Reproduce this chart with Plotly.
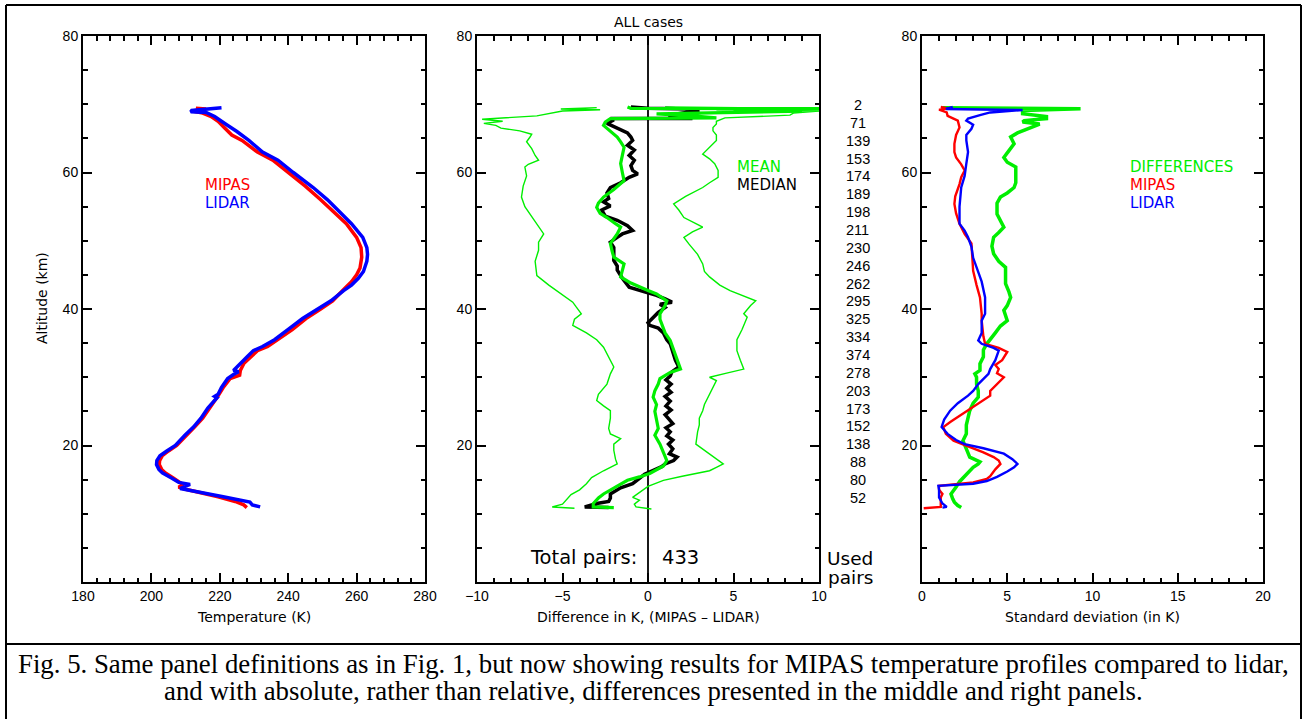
import plotly.graph_objects as go

# ---------------- Left panel: temperature profiles ----------------
mipas_alt = [69.4, 69.3, 69.0, 68.7, 68.2, 67.5, 66.5, 65.5, 64.7, 63.0, 61.8, 60.0, 58.0, 56.0, 54.0, 52.5,
             50.5, 49.0, 47.6, 46.0, 45.0, 44.0, 43.0, 42.0, 41.2, 40.0, 38.6, 37.0, 35.5, 34.5, 33.9, 33.0,
             32.0, 31.0, 30.3, 29.8, 28.5, 27.3, 25.5, 24.0, 22.7, 21.5, 20.5, 20.0, 19.2, 18.5, 17.8, 17.2,
             16.5, 16.0, 15.2, 14.6, 14.2, 13.9, 13.6, 12.5, 11.8, 11.3, 10.9]
mipas_temp = [213.0, 216.0, 212.0, 215.0, 217.5, 219.5, 221.5, 223.5, 226.5, 231.0, 235.5, 240.0, 245.0, 249.5,
              254.0, 257.0, 260.0, 261.3, 261.5, 261.0, 260.0, 258.5, 256.5, 254.5, 253.0, 249.5, 245.2, 241.2,
              237.0, 234.0, 231.0, 229.0, 227.0, 226.0, 225.8, 223.0, 221.0, 219.5, 217.0, 215.0, 212.6, 210.2,
              208.3, 207.4, 205.0, 203.2, 202.4, 202.3, 203.0, 204.0, 206.5, 208.5, 209.5, 207.9, 210.0, 219.5,
              224.5, 227.0, 227.9]
lidar_alt = [69.5, 69.1, 68.9, 68.8, 68.2, 67.9, 67.0, 66.0, 64.7, 63.0, 61.8, 60.0, 57.8, 56.0, 54.0, 52.5,
             50.5, 49.0, 48.0, 47.0, 45.5, 44.5, 43.5, 42.7, 41.2, 40.0, 38.6, 37.0, 35.5, 34.5, 33.9, 33.0,
             32.0, 31.2, 31.0, 30.8, 30.4, 29.8, 28.5, 27.5, 27.2, 27.0, 25.5, 24.0, 22.7, 21.5, 20.5, 20.0,
             19.2, 18.5, 17.8, 17.2, 16.5, 16.0, 15.2, 14.6, 14.3, 13.7, 12.5, 11.7, 11.3, 11.0]
lidar_temp = [220.5, 211.8, 211.5, 216.0, 218.5, 219.5, 222.0, 225.0, 228.5, 232.5, 237.0, 241.5, 247.3, 251.5,
              255.5, 258.5, 261.8, 263.0, 263.2, 263.0, 262.0, 260.5, 258.5, 256.2, 252.5, 248.5, 244.2, 240.0,
              236.0, 232.5, 229.8, 228.0, 226.0, 224.5, 224.0, 225.5, 224.0, 222.3, 220.5, 219.5, 218.5, 219.2,
              216.5, 214.5, 212.3, 209.8, 208.0, 207.0, 204.5, 202.5, 201.6, 201.5, 202.2, 203.2, 206.0, 208.0,
              211.3, 208.4, 221.0, 228.8, 229.5, 231.8]

# ---------------- Middle panel: differences ----------------
lower_alt = [69.5, 69.3, 69.2, 69.0, 68.3, 67.8, 67.5, 67.2, 66.9, 66.5, 66.1, 65.6, 65.2, 64.5, 63.5, 62.5,
             61.8, 61.2, 60.8, 59.5, 58.0, 56.4, 55.0, 53.9, 52.5, 51.0, 49.8, 48.6, 47.0, 45.5, 44.9, 43.5,
             42.0, 41.0, 40.3, 39.3, 38.5, 37.6, 36.5, 35.5, 34.4, 33.0, 31.5, 30.5, 29.0, 27.5, 26.6, 25.8,
             25.1, 24.0, 22.5, 21.7, 21.0, 20.2, 19.3, 18.0, 17.3, 16.3, 15.3, 14.4, 13.5, 12.8, 11.9, 11.4,
             11.0, 10.8]
lower_diff = [-3.0, -5.1, -2.8, -5.0, -6.5, -9.7, -8.5, -9.6, -8.9, -8.6, -7.5, -6.8, -6.9, -7.1, -6.8, -6.6,
              -6.4, -7.0, -7.2, -7.1, -7.3, -7.4, -7.2, -6.9, -6.5, -6.1, -6.4, -6.4, -6.6, -6.5, -6.5, -5.8,
              -5.0, -4.4, -4.2, -3.9, -4.3, -4.4, -3.6, -3.0, -2.6, -2.3, -2.0, -2.2, -2.4, -2.9, -3.0, -2.6,
              -2.2, -2.2, -2.3, -2.2, -1.6, -2.0, -2.0, -1.9, -1.8, -2.6, -3.3, -3.6, -4.0, -4.5, -4.8, -5.0,
              -5.6, -4.3]
upper_alt = [69.6, 69.4, 69.2, 69.0, 68.7, 68.4, 68.0, 67.5, 67.1, 66.6, 66.1, 65.5, 64.7, 63.5, 62.7, 62.0,
             61.3, 60.3, 59.3, 58.5, 57.8, 56.5, 55.4, 54.5, 53.4, 52.5, 52.0, 51.3, 50.5, 49.5, 48.0, 46.6,
             45.5, 44.7, 43.5, 42.7, 41.8, 41.2, 40.5, 39.3, 38.8, 37.0, 35.5, 33.9, 32.5, 31.2, 30.6, 30.0,
             29.5, 28.5, 27.0, 26.0, 25.1, 24.0, 23.0, 22.0, 20.2, 19.5, 18.8, 18.0, 17.3, 16.8, 16.3, 15.5,
             14.9, 14.0, 13.0, 12.4, 12.0, 11.4, 11.0, 10.7]
upper_diff = [1.0, 10.0, 4.0, 10.0, 8.5, 8.3, 4.5, 4.0, 4.0, 3.8, 3.8, 4.0, 4.0, 3.5, 3.2, 3.6,
              3.9, 4.1, 4.1, 3.6, 3.2, 2.2, 1.5, 1.8, 2.1, 2.8, 3.2, 2.6, 2.1, 2.4, 2.9, 3.2,
              3.3, 3.6, 4.2, 4.8, 5.7, 6.3, 6.0, 5.6, 5.8, 5.5, 5.2, 5.2, 5.4, 5.6, 4.6, 3.6,
              4.0, 3.8, 3.5, 3.3, 3.2, 3.0, 3.0, 2.9, 2.8, 3.2, 3.6, 4.0, 4.4, 4.0, 3.6, 2.0,
              0.9, 0.0, -0.6, -0.9, -0.5, -0.8, -0.7, 0.2]
mean_alt = [69.6, 69.4, 69.35, 69.2, 69.0, 68.8, 68.6, 68.3, 68.0, 67.9, 67.4, 66.9, 66.0, 65.2, 64.5, 63.7,
            62.5, 61.3, 60.0, 58.8, 57.5, 56.4, 55.5, 54.9, 54.0, 53.4, 52.5, 52.0, 51.0, 49.6, 48.5, 47.6,
            46.6, 45.5, 44.7, 43.8, 43.2, 42.7, 42.2, 41.6, 41.2, 40.5, 39.3, 38.5, 37.8, 36.5, 35.4, 34.0,
            32.5, 31.2, 30.7, 30.2, 29.8, 29.0, 28.0, 27.1, 26.0, 25.0, 23.7, 22.5, 21.5, 20.2, 19.0, 17.8,
            17.0, 16.5, 15.9, 15.4, 14.9, 14.2, 13.5, 12.9, 12.3, 11.5, 11.0, 10.9]
mean_diff = [-1.2, -1.0, 10.0, 5.0, 9.0, 5.3, 0.5, 2.6, 4.0, -2.2, -2.5, -2.6, -2.2, -1.8, -1.6, -1.4,
             -1.5, -1.6, -1.5, -1.4, -2.0, -2.6, -2.9, -3.0, -2.8, -2.4, -1.9, -1.6, -1.8, -2.2, -2.1, -2.0,
             -1.4, -1.5, -1.6, -1.0, -0.5, 0.0, 0.5, 0.9, 1.1, 1.0, 0.7, 0.7, 0.8, 1.0, 1.3, 1.5,
             1.7, 1.9, 1.3, 1.0, 0.7, 0.6, 0.4, 0.3, 0.5, 0.4, 0.5, 0.6, 0.4, 0.7, 0.9, 1.1,
             0.9, 0.5, 0.1, -0.5, -1.2, -1.7, -2.2, -2.6, -2.9, -3.2, -3.2, -2.0]
median_alt = [69.6, 69.4, 69.3, 69.1, 68.4, 67.9, 67.9, 67.7, 67.2, 66.5, 65.8, 65.2, 64.7, 64.0, 63.3, 62.5,
              61.8, 61.0, 60.3, 59.8, 59.3, 58.5, 57.8, 57.0, 56.2, 55.7, 55.1, 54.5, 53.6, 53.0, 52.2, 51.5,
              51.0, 50.5, 49.8, 49.0, 48.0, 47.1, 46.3, 45.7, 44.5, 43.2, 42.5, 42.0, 41.5, 41.0, 40.7, 40.2,
              39.5, 38.5, 38.0, 37.6, 37.2, 36.5, 35.5, 34.9, 33.5, 32.5, 31.5, 30.8, 30.2, 29.6, 29.0, 28.4,
              27.8, 27.2, 26.5, 25.8, 25.2, 24.5, 23.8, 23.2, 22.6, 22.0, 21.4, 20.8, 20.2, 19.5, 18.8, 18.3,
              17.8, 17.3, 16.9, 16.3, 15.8, 15.2, 14.4, 13.8, 12.9, 12.3, 11.8, 11.5, 11.2, 11.0, 10.9]
median_diff = [-1.0, 0.0, 2.5, 3.0, 1.2, 2.6, -2.2, -2.0, -2.4, -1.8, -1.2, -1.0, -0.9, -1.2, -0.8, -1.1,
               -0.8, -1.0, -0.9, -0.6, -1.1, -1.6, -2.2, -2.4, -2.3, -2.6, -2.2, -2.7, -2.5, -1.8, -1.2, -0.9,
               -1.5, -1.8, -2.2, -2.0, -2.0, -2.0, -1.8, -1.8, -1.5, -1.1, -0.2, 0.5, 1.0, 1.4, 0.7, 1.0,
               0.6, 0.2, 0.0, 0.1, 0.6, 0.9, 1.1, 1.3, 1.5, 1.6, 1.8, 1.4, 1.3, 1.05, 1.35, 1.1,
               1.35, 1.0, 1.3, 1.05, 1.35, 1.0, 1.25, 1.45, 1.05, 1.3, 1.1, 1.45, 1.2, 1.45, 1.25, 1.7,
               1.5, 1.0, 0.8, 0.3, -0.2, -0.5, -0.9, -1.6, -2.2, -2.2, -2.3, -3.0, -3.5, -3.7, -2.3]

used_pairs = [2, 71, 139, 153, 174, 189, 198, 211, 230, 246, 262, 295, 325, 334, 374, 278, 203, 173, 152, 138,
              88, 80, 52]
total_pairs = 433

# ---------------- Right panel: standard deviations ----------------
sd_diff_alt = [69.5, 69.35, 69.1, 68.6, 68.2, 67.9, 67.6, 67.4, 67.1, 66.6, 65.8, 65.2, 64.2, 63.2, 62.2, 61.5,
               60.8, 60.0, 58.5, 57.8, 57.0, 56.4, 55.5, 53.9, 52.8, 52.0, 51.2, 50.5, 49.2, 48.1, 47.0, 46.1,
               45.0, 43.7, 42.5, 41.7, 40.5, 39.8, 38.3, 37.5, 36.5, 35.5, 34.9, 34.0, 33.0, 32.0, 31.0, 30.5,
               30.0, 29.0, 28.0, 27.1, 26.2, 25.1, 24.0, 23.0, 21.7, 20.7, 19.5, 18.3, 17.6, 17.3, 16.8, 16.3,
               15.5, 14.7, 13.9, 12.9, 12.2, 11.7, 11.2, 10.9]
sd_diff = [1.2, 9.3, 5.9, 5.9, 7.3, 7.3, 6.0, 5.9, 6.9, 6.4, 5.6, 5.2, 5.4, 5.1, 4.8, 5.0,
           5.5, 5.5, 5.5, 5.4, 5.0, 4.6, 4.4, 4.4, 4.6, 4.8, 4.5, 4.2, 4.1, 4.2, 4.5, 4.9,
           4.9, 4.9, 5.1, 5.2, 5.0, 4.8, 5.0, 4.6, 4.3, 4.0, 3.8, 3.6, 3.6, 3.4, 3.4, 3.1,
           3.2, 3.2, 3.3, 3.3, 3.0, 2.8, 2.7, 2.6, 2.6, 2.4, 2.6, 2.8, 3.4, 3.3, 3.0, 2.8,
           2.5, 2.2, 2.0, 1.7, 1.8, 1.9, 2.1, 2.3]
sd_mipas_alt = [69.6, 69.4, 69.2, 68.8, 68.3, 67.6, 66.6, 65.5, 64.2, 63.0, 62.2, 61.2, 60.3, 59.3, 58.3, 56.5,
                55.4, 54.0, 52.5, 51.0, 49.6, 47.5, 45.6, 43.5, 41.7, 39.3, 38.3, 36.0, 34.9, 34.3, 33.7, 32.5,
                31.8, 31.2, 30.6, 30.0, 29.0, 28.0, 27.3, 26.5, 25.6, 24.5, 23.5, 22.7, 21.7, 20.7, 19.8, 19.0,
                18.3, 17.8, 17.3, 16.5, 15.5, 15.1, 14.6, 14.2, 14.1, 13.5, 12.9, 12.4, 11.5, 11.0, 10.8]
sd_mipas = [1.1, 1.5, 1.0, 1.45, 1.5, 2.1, 2.2, 2.0, 1.9, 1.9, 2.0, 2.3, 2.5, 2.3, 2.2, 1.95,
            1.9, 2.0, 2.2, 2.5, 2.9, 2.95, 3.0, 3.2, 3.4, 3.5, 3.5, 3.6, 3.7, 4.5, 5.0, 4.7,
            4.3, 4.5, 4.4, 4.8, 4.4, 4.0, 4.0, 3.5, 3.0, 2.3, 1.7, 1.25, 1.4, 1.85, 2.8, 3.6,
            4.2, 4.5, 4.6, 4.3, 4.0, 3.8, 3.0, 1.6, 1.0, 1.0, 1.2, 1.1, 1.1, 1.1, 0.1]
sd_lidar_alt = [69.6, 69.3, 69.15, 68.8, 68.4, 67.9, 67.6, 67.0, 66.4, 65.5, 64.7, 63.0, 61.3, 59.5, 57.8, 55.0,
                52.5, 51.5, 50.5, 49.1, 47.5, 46.1, 44.0, 41.7, 39.3, 38.3, 36.5, 35.4, 34.9, 34.3, 33.9, 32.5,
                31.2, 30.5, 29.8, 29.0, 28.0, 27.3, 26.2, 25.1, 23.8, 22.7, 21.7, 20.8, 20.2, 19.6, 18.8, 18.0,
                17.3, 16.8, 16.2, 15.4, 14.8, 14.4, 14.1, 13.5, 12.4, 11.5, 11.0, 10.9]
sd_lidar = [1.8, 1.4, 5.9, 4.0, 3.4, 2.7, 2.6, 3.0, 2.9, 2.6, 2.6, 2.7, 2.6, 2.5, 2.3, 2.2,
            2.2, 2.5, 2.7, 2.9, 3.0, 3.2, 3.5, 3.7, 3.7, 3.5, 3.5, 3.3, 3.5, 4.2, 4.5, 4.3,
            4.0, 3.9, 3.6, 3.3, 3.0, 2.7, 2.1, 1.65, 1.3, 1.15, 1.5, 2.0, 2.5, 3.6, 4.8, 5.3,
            5.6, 5.4, 5.0, 4.4, 3.8, 3.0, 0.96, 1.0, 1.0, 1.2, 1.45, 1.2]

caption_lines = [
    "Fig. 5. Same panel definitions as in Fig. 1, but now showing results for MIPAS temperature profiles compared to lidar,",
    "and with absolute, rather than relative, differences presented in the middle and right panels.",
]

RED = "#ff0000"
BLUE = "#0000ff"
GREEN = "#00ee00"
W, H = 1306, 719
SANS = "DejaVu Sans"
NUM = "Liberation Sans"


def px(x):
    return x / W


def py(y):
    return 1 - y / H


fig = go.Figure()

# left
fig.add_trace(go.Scatter(x=mipas_temp, y=mipas_alt, mode="lines", line=dict(color=RED, width=3.5),
                         xaxis="x", yaxis="y", showlegend=False))
fig.add_trace(go.Scatter(x=lidar_temp, y=lidar_alt, mode="lines", line=dict(color=BLUE, width=3.5),
                         xaxis="x", yaxis="y", showlegend=False))
# middle
fig.add_trace(go.Scatter(x=[0, 0], y=[0, 80], mode="lines", line=dict(color="black", width=1.8),
                         xaxis="x2", yaxis="y2", showlegend=False))
fig.add_trace(go.Scatter(x=lower_diff, y=lower_alt, mode="lines", line=dict(color=GREEN, width=1.4),
                         xaxis="x2", yaxis="y2", showlegend=False))
fig.add_trace(go.Scatter(x=upper_diff, y=upper_alt, mode="lines", line=dict(color=GREEN, width=1.4),
                         xaxis="x2", yaxis="y2", showlegend=False))
fig.add_trace(go.Scatter(x=median_diff, y=median_alt, mode="lines", line=dict(color="black", width=3.5),
                         xaxis="x2", yaxis="y2", showlegend=False))
fig.add_trace(go.Scatter(x=mean_diff, y=mean_alt, mode="lines", line=dict(color=GREEN, width=3.2),
                         xaxis="x2", yaxis="y2", showlegend=False))
# right
fig.add_trace(go.Scatter(x=sd_diff, y=sd_diff_alt, mode="lines", line=dict(color=GREEN, width=3.5),
                         xaxis="x3", yaxis="y3", showlegend=False))
fig.add_trace(go.Scatter(x=sd_mipas, y=sd_mipas_alt, mode="lines", line=dict(color=RED, width=2.4),
                         xaxis="x3", yaxis="y3", showlegend=False))
fig.add_trace(go.Scatter(x=sd_lidar, y=sd_lidar_alt, mode="lines", line=dict(color=BLUE, width=2.4),
                         xaxis="x3", yaxis="y3", showlegend=False))

ydom = [py(582), py(36)]


def xax(domain, rng, dtick, mdtick, anchor):
    return dict(domain=domain, range=rng, dtick=dtick, tick0=rng[0], anchor=anchor, automargin=False,
                showline=True, linecolor="black", linewidth=2, mirror="allticks",
                ticks="inside", ticklen=9, tickwidth=1.6, tickcolor="black",
                minor=dict(ticks="inside", ticklen=4.5, tickwidth=1.6, tickcolor="black", dtick=mdtick,
                           tick0=rng[0]),
                showgrid=False, zeroline=False, tickfont=dict(family=NUM, size=14, color="black"),
                fixedrange=True)


def yax(anchor):
    return dict(domain=ydom, range=[0, 80], tickvals=[0, 20, 40, 60, 80], automargin=False,
                ticktext=["", "20", "40", "60", "80"], anchor=anchor,
                showline=True, linecolor="black", linewidth=2, mirror="allticks",
                ticks="inside", ticklen=9, tickwidth=1.6, tickcolor="black",
                minor=dict(ticks="inside", ticklen=4.5, tickwidth=1.6, tickcolor="black", dtick=5, tick0=0),
                showgrid=False, zeroline=False, tickfont=dict(family=NUM, size=14, color="black"),
                fixedrange=True)


fig.update_layout(
    width=W, height=H, margin=dict(l=0, r=0, t=0, b=0, pad=0, autoexpand=False),
    paper_bgcolor="white", plot_bgcolor="white", showlegend=False,
    xaxis=xax([px(83), px(425)], [180, 280], 20, 4, "y"),
    yaxis=yax("x"),
    xaxis2=xax([px(477), px(819)], [-10, 10], 5, 1, "y2"),
    yaxis2=yax("x2"),
    xaxis3=xax([px(922), px(1263)], [0, 20], 5, 1, "y3"),
    yaxis3=yax("x3"),
)

ann = []


def text(x, y, s, size=14, color="black", family=SANS, xanchor="center", yanchor="middle", angle=0,
         xref="paper", yref="paper"):
    ann.append(dict(x=x, y=y, xref=xref, yref=yref, text=s, showarrow=False, xanchor=xanchor,
                    yanchor=yanchor, textangle=angle, font=dict(family=family, size=size, color=color)))


# axis titles
text(px(254), py(617), "Temperature (K)")
text(px(648), py(617), "Difference in K, (MIPAS \u2013 LIDAR)")
text(px(1092), py(617), "Standard deviation (in K)")
text(px(42), py(298), "Altitude (km)", angle=-90)
text(px(648), py(22), "ALL cases")

# in-panel labels
text(px(203), py(185), "MIPAS", size=15, color=RED, xanchor="left")
text(px(203), py(203), "LIDAR", size=15, color=BLUE, xanchor="left")
text(px(735), py(167), "MEAN", size=15, color=GREEN, xanchor="left")
text(px(735), py(185), "MEDIAN", size=15, color="black", xanchor="left")
text(px(1128), py(167), "DIFFERENCES", size=15, color=GREEN, xanchor="left")
text(px(1128), py(185), "MIPAS", size=15, color=RED, xanchor="left")
text(px(1128), py(203), "LIDAR", size=15, color=BLUE, xanchor="left")

# used pairs column
for i, n in enumerate(used_pairs):
    text(px(858), py(105 + i * 17.86), str(n), size=14.5, family=NUM)
text(px(850), py(558), "Used", size=18.5)
text(px(850), py(577), "pairs", size=18.5)
text(px(639), py(557), "Total pairs:", size=19.5, xanchor="right")
text(px(660), py(557), str(total_pairs), size=19.5, xanchor="left")

# caption
text(0.5, py(664), caption_lines[0], size=26.8, family="Liberation Serif")
text(0.5, py(691), caption_lines[1], size=26.8, family="Liberation Serif")

fig.update_layout(annotations=ann)

# outer frame and caption separator
lw = 2
fig.add_shape(type="line", xref="paper", yref="paper", x0=px(6), x1=px(1301), y0=py(5), y1=py(5),
              line=dict(color="black", width=lw))
fig.add_shape(type="line", xref="paper", yref="paper", x0=px(6), x1=px(6), y0=py(5), y1=-0.02,
              line=dict(color="black", width=lw))
fig.add_shape(type="line", xref="paper", yref="paper", x0=px(1301), x1=px(1301), y0=py(5), y1=-0.02,
              line=dict(color="black", width=lw))
fig.add_shape(type="line", xref="paper", yref="paper", x0=px(6), x1=px(1301), y0=py(644), y1=py(644),
              line=dict(color="black", width=lw))

fig.write_html("out.html", config={"displayModeBar": False},
               post_script="document.body.style.margin='0';document.body.style.overflow='hidden';")
